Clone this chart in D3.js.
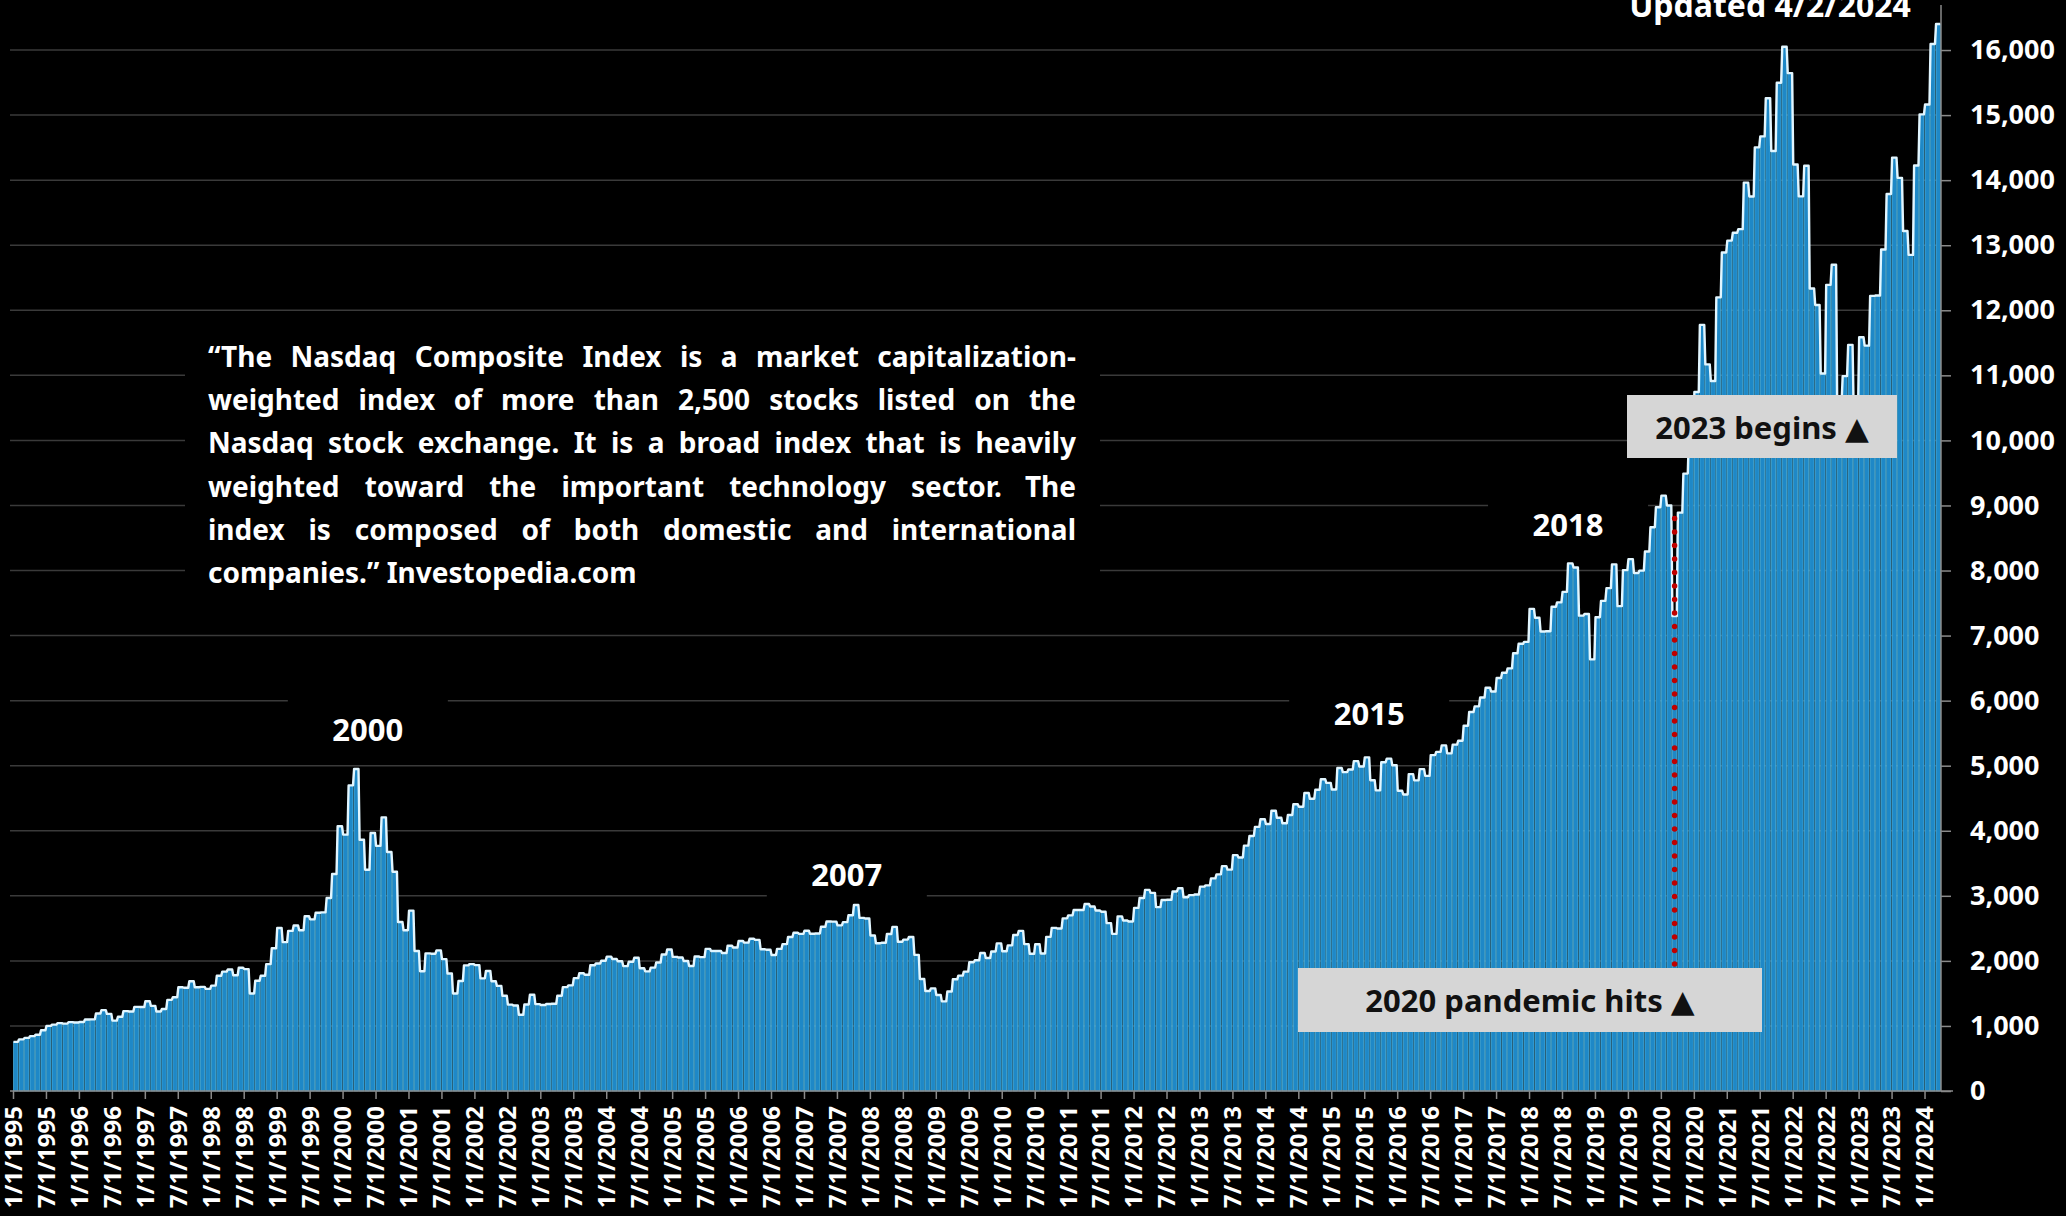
<!DOCTYPE html>
<html>
<head>
<meta charset="utf-8">
<script src="https://cdn.jsdelivr.net/npm/d3@7"></script>
<style>
html, body { margin: 0; padding: 0; background: #000; overflow: hidden; }
svg { display: block; }
text { font-family: 'Noto Sans', 'DejaVu Sans', sans-serif; font-weight: 700; }
</style>
</head>
<body>
<svg id="chart" width="2066" height="1216"></svg>
<script>
// monthly Nasdaq Composite level (Jan 1995 .. Mar 2024)
const close1995to1999 = [
  755, 794, 817, 843, 865, 933, 1001, 1020, 1044, 1036, 1059, 1052,
  1060, 1100, 1101, 1191, 1243, 1185, 1081, 1141, 1227, 1222, 1293, 1291,
  1380, 1309, 1222, 1261, 1400, 1442, 1594, 1587, 1686, 1594, 1601, 1570,
  1619, 1771, 1835, 1868, 1779, 1895, 1873, 1499, 1694, 1771, 1950, 2193,
  2506, 2288, 2461, 2543, 2471, 2686, 2638, 2739, 2746, 2966, 3336, 4069
];
const close2000to2004 = [
  3940, 4697, 4950, 3861, 3401, 3966, 3767, 4206, 3673, 3370, 2598, 2471,
  2773, 2152, 1840, 2116, 2110, 2161, 2027, 1805, 1499, 1690, 1931, 1950,
  1934, 1731, 1845, 1688, 1616, 1463, 1328, 1315, 1172, 1330, 1479, 1336,
  1321, 1338, 1341, 1464, 1596, 1623, 1735, 1810, 1787, 1932, 1960, 2003,
  2066, 2030, 1994, 1920, 1987, 2048, 1887, 1838, 1897, 1975, 2097, 2175
];
const close2005to2009 = [
  2062, 2052, 1999, 1922, 2068, 2057, 2185, 2152, 2152, 2120, 2233, 2205,
  2306, 2281, 2340, 2323, 2179, 2172, 2091, 2184, 2258, 2367, 2432, 2415,
  2464, 2416, 2422, 2525, 2605, 2603, 2546, 2596, 2701, 2859, 2661, 2652,
  2390, 2271, 2279, 2413, 2523, 2293, 2326, 2368, 2092, 1721, 1536, 1577,
  1476, 1378, 1529, 1717, 1774, 1835, 1979, 2009, 2122, 2045, 2145, 2269
];
const close2010to2014 = [
  2147, 2238, 2398, 2461, 2257, 2109, 2255, 2114, 2369, 2507, 2498, 2653,
  2700, 2782, 2781, 2874, 2835, 2774, 2756, 2580, 2415, 2684, 2620, 2605,
  2814, 2967, 3092, 3046, 2827, 2935, 2940, 3067, 3116, 2977, 3010, 3020,
  3142, 3160, 3268, 3329, 3456, 3403, 3626, 3590, 3771, 3920, 4060, 4177,
  4104, 4308, 4199, 4115, 4243, 4408, 4370, 4580, 4493, 4631, 4792, 4736
];
const close2015to2019 = [
  4635, 4964, 4901, 4941, 5070, 4987, 5128, 4777, 4620, 5054, 5109, 5007,
  4614, 4558, 4870, 4775, 4948, 4843, 5162, 5213, 5312, 5189, 5324, 5383,
  5615, 5825, 5912, 6048, 6199, 6140, 6348, 6429, 6496, 6728, 6874, 6903,
  7411, 7273, 7063, 7066, 7442, 7510, 7672, 8110, 8046, 7306, 7331, 6635,
  7282, 7533, 7729, 8095, 7453, 8006, 8175, 7963, 7999, 8292, 8665, 8973
];
const close2020to2024 = [
  9151, 9000, 7300, 8890, 9490, 10059, 10745, 11775, 11168, 10912, 12199, 12888,
  13071, 13192, 13247, 13962, 13749, 14504, 14673, 15259, 14449, 15498, 16050, 15645,
  14240, 13751, 14221, 12335, 12081, 11029, 12391, 12700, 10576, 10988, 11468, 10466,
  11585, 11456, 12222, 12227, 12935, 13788, 14346, 14035, 13219, 12851, 14226, 15011,
  15164, 16092, 16400
];

const tickLabels = [
  '1/1/1995', '7/1/1995', '1/1/1996', '7/1/1996', '1/1/1997', '7/1/1997',
  '1/1/1998', '7/1/1998', '1/1/1999', '7/1/1999', '1/1/2000', '7/1/2000',
  '1/1/2001', '7/1/2001', '1/1/2002', '7/1/2002', '1/1/2003', '7/1/2003',
  '1/1/2004', '7/1/2004', '1/1/2005', '7/1/2005', '1/1/2006', '7/1/2006',
  '1/1/2007', '7/1/2007', '1/1/2008', '7/1/2008', '1/1/2009', '7/1/2009',
  '1/1/2010', '7/1/2010', '1/1/2011', '7/1/2011', '1/1/2012', '7/1/2012',
  '1/1/2013', '7/1/2013', '1/1/2014', '7/1/2014', '1/1/2015', '7/1/2015',
  '1/1/2016', '7/1/2016', '1/1/2017', '7/1/2017', '1/1/2018', '7/1/2018',
  '1/1/2019', '7/1/2019', '1/1/2020', '7/1/2020', '1/1/2021', '7/1/2021',
  '1/1/2022', '7/1/2022', '1/1/2023', '7/1/2023', '1/1/2024'
];
const yTicks = [0, 1000, 2000, 3000, 4000, 5000, 6000, 7000, 8000, 9000, 10000,
  11000, 12000, 13000, 14000, 15000, 16000];

const peakLabels = ['2000', '2007', '2015', '2018'];
const updatedLabel = 'Updated 4/2/2024';
const boxLabels = ['2023 begins ▲', '2020 pandemic hits ▲'];
const quoteLines = [
  '“The Nasdaq Composite Index is a market capitalization-',
  'weighted index of more than 2,500 stocks listed on the',
  'Nasdaq stock exchange. It is a broad index that is heavily',
  'weighted toward the important technology sector. The',
  'index is composed of both domestic and international',
  'companies.” Investopedia.com'
];

const values = [].concat(close1995to1999, close2000to2004, close2005to2009,
  close2010to2014, close2015to2019, close2020to2024);

const svg = d3.select('#chart');
const left = 13, right = 1941, bottom = 1091;

const x = d3.scaleBand()
  .domain(d3.range(values.length))
  .range([left, right])
  .paddingInner(0.2)
  .paddingOuter(0.1);
// continuous twin of x for the tick marks (they sit on month boundaries)
const xt = d3.scaleLinear().domain([0, values.length]).range([left, right]);
const y = d3.scaleLinear().domain([0, 16700]).range([bottom, bottom - 16.7 * 65.06]);

// gridlines
svg.append('g')
  .selectAll('line')
  .data(yTicks.slice(1))
  .enter().append('line')
  .attr('x1', 10).attr('x2', right)
  .attr('y1', d => y(d)).attr('y2', d => y(d))
  .attr('stroke', '#3a3a3a')
  .attr('stroke-width', 1.5);

// black panels behind the texts hide the gridlines
const qLeft = 208, qWidth = 868, qTop = 356, qStep = 43.2;
svg.append('rect')
  .attr('x', 185).attr('y', 322).attr('width', 915).attr('height', 285)
  .attr('fill', '#000');

const peakPos = [[64.6, 5560], [151.8, 3335], [246.9, 5810], [283.1, 8715]];
svg.append('g').selectAll('rect')
  .data(peakPos)
  .enter().append('rect')
  .attr('x', d => xt(d[0]) - 80)
  .attr('y', d => y(d[1]) - 32)
  .attr('width', 160).attr('height', 64)
  .attr('fill', '#000');

// bars
svg.append('g')
  .selectAll('rect')
  .data(values)
  .enter().append('rect')
  .attr('x', (d, i) => x(i))
  .attr('y', d => y(d))
  .attr('width', x.bandwidth())
  .attr('height', d => bottom - y(d))
  .attr('fill', '#1e88c7')
  .attr('stroke', '#52bbe9')
  .attr('stroke-width', 0.7);

// outline running over the bar tops
const topPts = [];
values.forEach((v, i) => {
  topPts.push([x(i), y(v)]);
  topPts.push([x(i) + x.bandwidth(), y(v)]);
});
svg.append('path')
  .attr('d', d3.line()(topPts))
  .attr('fill', 'none')
  .attr('stroke', '#e2f6ff')
  .attr('stroke-width', 2.4)
  .attr('stroke-linejoin', 'round');

// right value axis
const yAxis = svg.append('g')
  .attr('transform', `translate(${right},0)`)
  .call(d3.axisRight(y).tickValues(yTicks).tickFormat(d3.format(',')).tickSize(10).tickPadding(19));
yAxis.select('.domain').remove();
yAxis.selectAll('.tick line').attr('stroke', '#8a8a8a').attr('stroke-width', 1.5);
yAxis.selectAll('.tick text')
  .attr('fill', '#fff')
  .attr('font-size', 27)
  .attr('font-family', "'Noto Sans', sans-serif")
  .attr('font-weight', 700);
svg.append('line')
  .attr('x1', right).attr('x2', right)
  .attr('y1', bottom).attr('y2', 5)
  .attr('stroke', '#8a8a8a').attr('stroke-width', 1.5);

// bottom date axis
const xAxis = svg.append('g')
  .attr('transform', `translate(0,${bottom})`)
  .call(d3.axisBottom(xt)
    .tickValues(d3.range(0, tickLabels.length * 6, 6))
    .tickFormat((d, i) => tickLabels[i])
    .tickSize(8));
xAxis.select('.domain').remove();
xAxis.selectAll('.tick line').attr('stroke', '#8a8a8a').attr('stroke-width', 1.5);
xAxis.selectAll('.tick text')
  .attr('fill', '#fff')
  .attr('font-size', 24)
  .attr('font-family', "'Noto Sans', sans-serif")
  .attr('font-weight', 700)
  .attr('transform', 'rotate(-90)')
  .attr('text-anchor', 'end')
  .attr('dy', '0.35em')
  .attr('x', -15)
  .attr('y', 0);
svg.append('line')
  .attr('x1', 10).attr('x2', 1953)
  .attr('y1', bottom).attr('y2', bottom)
  .attr('stroke', '#8a8a8a').attr('stroke-width', 1.5);

// year labels over the peaks
svg.append('g').selectAll('text')
  .data(peakLabels)
  .enter().append('text')
  .attr('x', (d, i) => xt(peakPos[i][0]))
  .attr('y', (d, i) => y(peakPos[i][1]))
  .attr('text-anchor', 'middle')
  .attr('dominant-baseline', 'central')
  .attr('font-size', 31)
  .attr('fill', '#fff')
  .text(d => d);

svg.append('text')
  .attr('x', 1770).attr('y', 17)
  .attr('text-anchor', 'middle')
  .attr('font-size', 32)
  .attr('fill', '#fff')
  .text(updatedLabel);

// pandemic marker
svg.append('line')
  .attr('x1', xt(302.5)).attr('x2', xt(302.5))
  .attr('y1', y(8800)).attr('y2', 968)
  .attr('stroke', '#c00000')
  .attr('stroke-width', 5.5)
  .attr('stroke-linecap', 'round')
  .attr('stroke-dasharray', '0 13.5');

// grey call-out boxes
const boxes = [
  { cx: 1762, cy: 426.5, w: 270, h: 63 },
  { cx: 1530, cy: 1000, w: 464, h: 64 }
];
const bx = svg.append('g').selectAll('g')
  .data(boxLabels)
  .enter().append('g');
bx.append('rect')
  .attr('x', (d, i) => boxes[i].cx - boxes[i].w / 2)
  .attr('y', (d, i) => boxes[i].cy - boxes[i].h / 2)
  .attr('width', (d, i) => boxes[i].w)
  .attr('height', (d, i) => boxes[i].h)
  .attr('fill', '#d6d6d6');
bx.append('text')
  .attr('x', (d, i) => boxes[i].cx)
  .attr('y', (d, i) => boxes[i].cy)
  .attr('text-anchor', 'middle')
  .attr('dominant-baseline', 'central')
  .attr('font-size', 31)
  .attr('fill', '#111')
  .text(d => d);

// justified quote
let qSize = 28;
const probe = svg.append('text').attr('font-size', qSize).text(quoteLines[2]);
const natural = probe.node().getComputedTextLength();
probe.remove();
if (natural > qWidth) qSize = qSize * qWidth / natural;

quoteLines.forEach((line, li) => {
  const words = line.split(' ');
  const t = svg.append('text')
    .attr('y', qTop + li * qStep)
    .attr('dominant-baseline', 'central')
    .attr('font-size', qSize)
    .attr('fill', '#fff');
  const spans = words.map(w => t.append('tspan').text(w));
  const widths = spans.map(s => s.node().getComputedTextLength());
  const sum = d3.sum(widths);
  const last = li === quoteLines.length - 1;
  const gap = last ? qSize * 0.26 : (qWidth - sum) / (words.length - 1);
  let cx = qLeft;
  spans.forEach((s, k) => {
    s.attr('x', cx);
    cx += widths[k] + gap;
  });
});
</script>
</body>
</html>
